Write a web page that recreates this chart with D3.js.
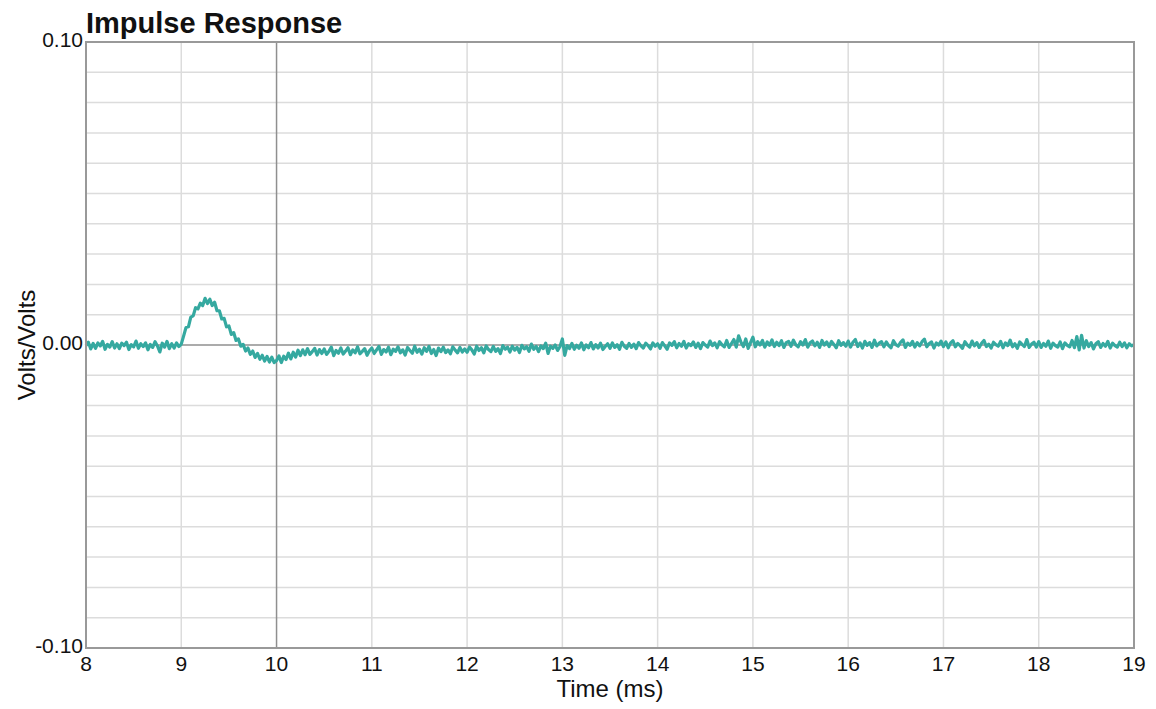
<!DOCTYPE html>
<html>
<head>
<meta charset="utf-8">
<script src="https://cdn.jsdelivr.net/npm/d3@7"></script>
<style>
  body { margin: 0; background: #fff; }
  text { font-family: "Liberation Sans", Arial, Helvetica, sans-serif; fill: #111; }
</style>
</head>
<body>
<div id="chart"></div>
<script>
// time axis: samples every 0.025 ms starting at 8 ms
var tStart = 8;
var tStep = 0.025;

// impulse response in thousandths of volts/volts, one row per ms
var seg8 = [-0.2, 0.9, -1.3, 0.5, -1.1, 0.7, -0.3, 1.2, -1.4, 0.2, -0.7, 1.1, -1.0, 0.4, -1.2, 0.6, -0.2, 0.9, -1.5, 0.1,
            -0.6, 1.3, -1.1, 0.4, -0.5, 0.7, -1.6, 0.2, -0.8, 1.1, -0.3, -2.3, 0.6, -0.7, 1.2, -1.2, 0.4, -1.0, 0.7, -0.5];
var seg9 = [0.3, 3.0, 5.8, 6.0, 9.2, 9.6, 12.3, 11.9, 13.8, 13.0, 15.4, 13.7, 15.1, 13.0, 14.1, 11.3, 11.3, 8.6, 8.8, 6.0,
            6.3, 3.5, 4.1, 1.5, 2.0, -0.4, 0.2, -2.0, -1.0, -3.1, -2.0, -4.1, -2.8, -4.7, -3.4, -5.3, -3.8, -5.6, -4.0, -5.8];
var seg10 = [-5.1, -3.6, -5.8, -3.7, -4.8, -2.7, -4.6, -2.4, -4.0, -1.7, -3.5, -1.6, -3.2, -1.2, -3.1, -2.2, -1.1, -3.3, -1.5, -2.8,
             -1.3, -3.1, -2.1, -0.7, -3.5, -1.8, -2.7, -1.0, -3.0, -2.0, -0.9, -3.2, -1.6, -2.6, -0.6, -2.9, -2.1, -1.2, -3.4, -1.9];
var seg11 = [-1.0, -2.8, -1.6, -0.5, -3.1, -1.5, -2.3, -0.7, -3.2, -1.4, -2.1, -0.6, -2.6, -1.6, -3.3, -0.8, -1.8, -2.7, -0.4, -2.4,
             -1.4, -3.0, -0.9, -2.1, -0.5, -2.8, -1.5, -3.5, -1.0, -2.2, -0.7, -2.5, -1.6, -2.9, -0.6, -1.7, -2.6, -0.8, -2.3, -1.3];
var seg12 = [-2.4, -0.7, -1.6, -3.0, -0.4, -1.8, -0.9, -2.6, -0.3, -1.5, -2.2, -0.5, -2.1, -1.2, -2.8, -0.2, -1.4, -0.7, -2.3, -0.4,
             -1.7, -0.8, -2.5, -0.1, -1.3, -0.6, -2.1, 0.3, -1.4, -0.5, -2.2, -0.3, -1.2, 0.6, -2.8, -0.4, -1.1, 0.0, -1.8, -0.5];
var seg13 = [2.0, -3.4, -0.2, -1.2, 0.5, -1.4, -0.1, -1.1, 0.7, -1.6, 0.0, -0.9, 0.8, -1.3, 0.1, -1.0, 0.6, -1.5, -0.5, 0.4,
             -1.1, 0.7, -0.8, 0.1, -1.4, 0.9, -0.4, -1.1, 0.5, -0.8, 0.3, -1.2, 0.8, -0.3, -1.0, 0.6, -0.2, -1.3, 0.7, -0.4];
var seg14 = [0.4, -1.1, 0.8, -0.3, -1.4, 0.7, -0.1, 1.1, -0.9, 0.5, -0.4, 1.2, -1.0, 0.4, -0.2, 1.0, -0.8, 0.6, -1.2, 0.8,
             0.0, -0.7, 1.3, -0.2, 0.7, -0.9, 1.1, 0.1, -0.6, 1.5, -0.8, 0.5, 1.8, -0.7, 3.0, 0.9, -0.5, 2.0, -1.1, 0.8];
var seg15 = [2.6, -0.6, 1.1, 0.0, 1.5, -0.7, 1.0, -0.1, 1.7, -0.5, 0.9, -0.2, 1.4, -0.8, 0.8, 1.2, -0.4, 1.6, 0.1, -0.6,
             1.1, 0.0, 1.8, -0.7, 0.7, 1.3, -0.3, 0.9, -0.8, 1.5, 0.0, 1.0, -0.5, 1.2, 0.2, -0.9, 1.4, -0.1, 0.8, -0.4];
var seg16 = [1.3, -0.7, 0.9, 1.8, -0.5, 0.7, -1.0, 1.2, -0.1, 0.8, -0.8, 1.6, -0.3, 0.6, 1.1, -0.6, 1.0, -0.2, -0.9, 1.4,
             0.1, -0.4, 0.9, 1.7, -0.8, 0.6, -0.1, 1.2, -0.7, 0.8, -0.3, 1.1, 1.9, -0.6, 0.5, 1.0, -1.0, 0.7, 0.0, 1.3];
var seg17 = [-0.5, 1.0, -0.9, 0.7, 1.4, -0.6, 0.5, -0.2, -1.1, 1.1, 0.0, -0.7, 1.3, -0.3, 0.8, -0.8, 0.6, 1.5, -0.5, 0.3,
             -1.0, 0.9, 0.1, -0.4, 1.2, -0.9, 0.7, -0.2, 1.6, -0.6, 0.4, -1.1, 1.0, 0.2, -0.5, 1.8, -0.8, 0.3, 0.9, -0.7];
var seg18 = [1.1, -0.8, 0.5, -0.4, 1.3, -1.1, 0.6, -0.2, -0.7, 1.0, -1.2, 0.7, -0.1, -0.6, 1.5, -0.9, 2.8, -1.6, 3.2, -1.0,
             1.4, -0.5, 0.8, -1.3, 0.4, 1.1, -0.8, 0.5, -0.4, 1.2, -1.0, 0.6, -0.2, -0.7, 0.9, -0.5, 0.7, -0.9, 0.4, -0.3];
var segEnd = [0.1];

var xTicks = [8, 9, 10, 11, 12, 13, 14, 15, 16, 17, 18, 19];
var yGrid = [-0.10, -0.09, -0.08, -0.07, -0.06, -0.05, -0.04, -0.03, -0.02, -0.01, 0.00,
             0.01, 0.02, 0.03, 0.04, 0.05, 0.06, 0.07, 0.08, 0.09, 0.10];
var yLabels = [-0.10, 0.00, 0.10];

var svgWidth = 1156;
var svgHeight = 709;
var margin = { top: 42, right: 22, bottom: 61, left: 86 };
var width = svgWidth - margin.left - margin.right;
var height = svgHeight - margin.top - margin.bottom;

var milli = [].concat(seg8, seg9, seg10, seg11, seg12, seg13, seg14, seg15, seg16, seg17, seg18, segEnd);
var trace = milli.map(function(v, i) {
  return { t: tStart + i * tStep, v: v / 1000 };
});

var svg = d3.select("#chart")
  .append("svg")
  .attr("width", svgWidth)
  .attr("height", svgHeight);

var chartGroup = svg.append("g")
  .attr("transform", `translate(${margin.left}, ${margin.top})`);

var xScale = d3.scaleLinear().domain([8, 19]).range([0, width]);
var yScale = d3.scaleLinear().domain([-0.10, 0.10]).range([height, 0]);

// grid
chartGroup.selectAll(".hgrid")
  .data(yGrid)
  .enter()
  .append("line")
  .attr("x1", 0)
  .attr("x2", width)
  .attr("y1", d => yScale(d))
  .attr("y2", d => yScale(d))
  .attr("stroke", d => Math.abs(d) < 1e-9 ? "#8f8f8f" : "#dcdcdc")
  .attr("stroke-width", 1.5);

chartGroup.selectAll(".vgrid")
  .data(xTicks)
  .enter()
  .append("line")
  .attr("x1", d => xScale(d))
  .attr("x2", d => xScale(d))
  .attr("y1", 0)
  .attr("y2", height)
  .attr("stroke", d => d === 10 ? "#8f8f8f" : "#dcdcdc")
  .attr("stroke-width", 1.5);

// trace
var line = d3.line()
  .x(d => xScale(d.t))
  .y(d => yScale(d.v));

chartGroup.append("path")
  .datum(trace)
  .attr("d", line)
  .attr("fill", "none")
  .attr("stroke", "#35a9a0")
  .attr("stroke-width", 3.2)
  .attr("stroke-linejoin", "round");

// frame
chartGroup.append("rect")
  .attr("x", 0)
  .attr("y", 0)
  .attr("width", width)
  .attr("height", height)
  .attr("fill", "none")
  .attr("stroke", "#999")
  .attr("stroke-width", 2);

// tick labels
chartGroup.selectAll(".xlabel")
  .data(xTicks)
  .enter()
  .append("text")
  .attr("x", d => xScale(d))
  .attr("y", height + 23)
  .attr("text-anchor", "middle")
  .attr("font-size", "21px")
  .text(d => d);

chartGroup.selectAll(".ylabel")
  .data(yLabels)
  .enter()
  .append("text")
  .attr("x", -3)
  .attr("y", d => yScale(d) + 5)
  .attr("text-anchor", "end")
  .attr("font-size", "21px")
  .text(d => d.toFixed(2));

// titles
svg.append("text")
  .attr("x", margin.left)
  .attr("y", 33)
  .attr("font-size", "29px")
  .attr("font-weight", "bold")
  .text("Impulse Response");

svg.append("text")
  .attr("x", 610)
  .attr("y", 697)
  .attr("text-anchor", "middle")
  .attr("font-size", "24px")
  .text("Time (ms)");

svg.append("text")
  .attr("transform", `translate(35, ${margin.top + height / 2}) rotate(-90)`)
  .attr("text-anchor", "middle")
  .attr("font-size", "24px")
  .text("Volts/Volts");
</script>
</body>
</html>
